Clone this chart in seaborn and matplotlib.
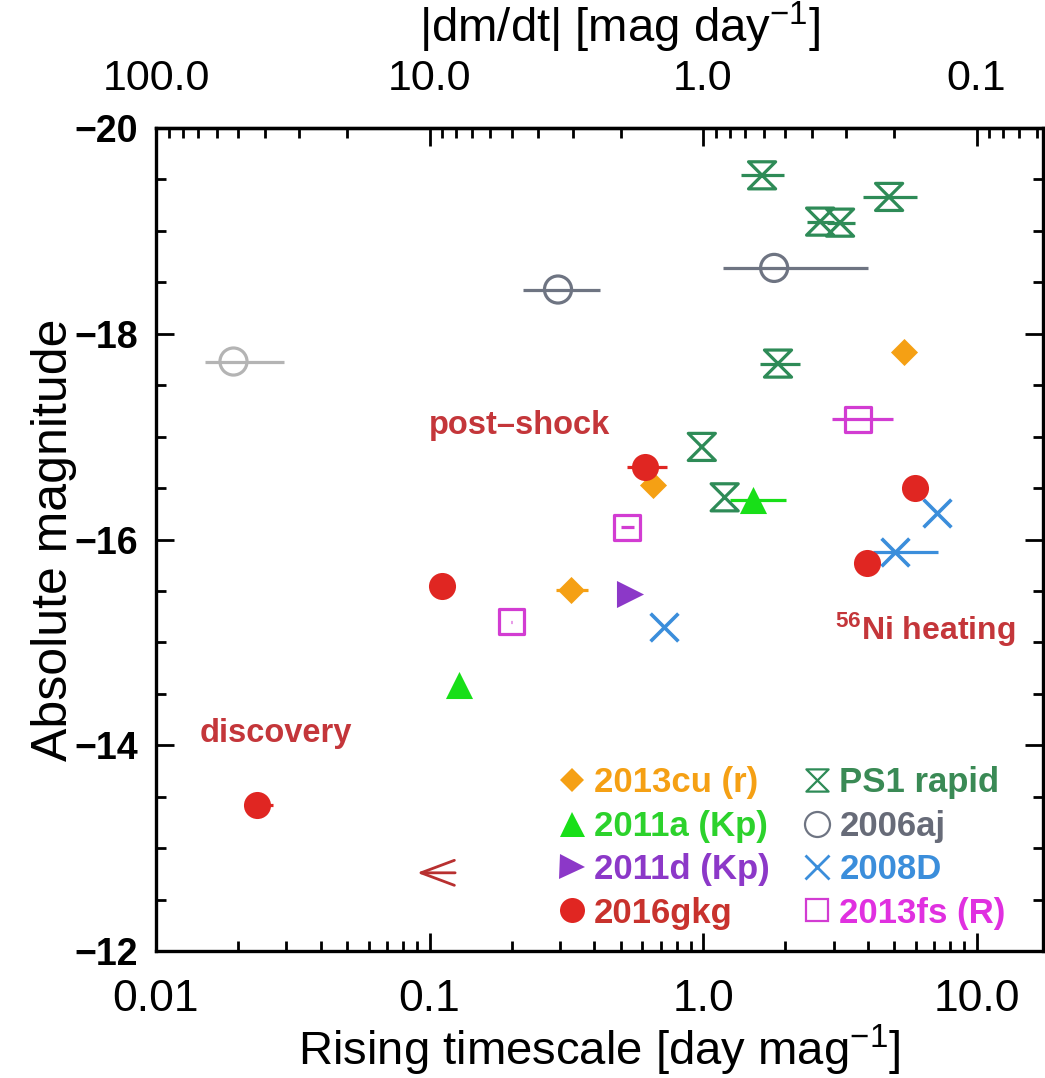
import numpy as np
import pandas as pd
import matplotlib
matplotlib.use("Agg")
import matplotlib.pyplot as plt
import seaborn as sns
from matplotlib.path import Path
from matplotlib.lines import Line2D
from matplotlib.ticker import MultipleLocator, LogLocator, NullFormatter

# rising timescale [day mag^-1], absolute magnitude, x error extent (lo, hi)
cu_x = [5.45, 0.656, 0.329]
cu_y = [-17.82, -16.53, -15.51]
cu_lo = [5.45, 0.656, 0.29]
cu_hi = [5.45, 0.656, 0.38]

a11_x = [0.128, 1.52]
a11_y = [-14.59, -16.38]
a11_lo = [0.128, 1.25]
a11_hi = [0.128, 2.01]

d11_x = [0.541]
d11_y = [-15.47]

gkg_x = [0.0234, 0.111, 0.614, 5.96, 3.98]
gkg_y = [-13.42, -15.55, -16.70, -16.50, -15.77]
gkg_lo = [0.0215, 0.111, 0.527, 5.96, 3.98]
gkg_hi = [0.0268, 0.111, 0.739, 5.96, 3.98]
gkg_limit_x = [0.127, 0.088]   # upper limit (arrow tail -> tip)
gkg_limit_y = -12.76

ps1_x = [1.644, 2.68, 3.17, 4.79, 1.88, 0.99, 1.20]
ps1_y = [-19.54, -19.09, -19.08, -19.33, -17.71, -16.90, -16.41]
ps1_lo = [1.377, 2.40, 2.85, 3.85, 1.62, 0.99, 1.20]
ps1_hi = [1.98, 3.00, 3.60, 6.06, 2.26, 0.99, 1.20]

aj_x = [0.295, 1.82]
aj_y = [-18.43, -18.64]
aj_lo = [0.22, 1.18]
aj_hi = [0.42, 4.01]

aj_early_x = [0.0192]
aj_early_y = [-17.73]
aj_early_lo = [0.0151]
aj_early_hi = [0.0293]

d08_x = [0.72, 5.04, 7.17]
d08_y = [-15.15, -15.88, -16.26]
d08_lo = [0.72, 4.18, 7.17]
d08_hi = [0.72, 7.22, 7.17]

fs_x = [0.20, 0.527, 3.69]
fs_y = [-15.20, -16.12, -17.17]
fs_lo = [0.199, 0.50, 2.96]
fs_hi = [0.201, 0.56, 4.95]

labels = ['2013cu (r)', '2011a (Kp)', '2011d (Kp)', '2016gkg',
          'PS1 rapid', '2006aj', '2008D', '2013fs (R)']

c_cu = '#F5A014'
c_a11 = '#18DF18'
c_d11 = '#8C38C8'
c_gkg = '#E02622'
c_ps1 = '#2E8B57'
c_aj = '#6E7482'
c_early = '#B4B4B4'
c_08d = '#3B8EDB'
c_fs = '#D23CD2'
c_note = '#C4363A'
text_colors = [c_cu, '#2CD22C', c_d11, '#C8322D', '#3A8A55', '#676B78', c_08d, '#E030E0']

# hourglass marker used for the PS1 objects
hourglass = Path([(-1, 1), (1, 1), (-1, -1), (1, -1), (-1, 1)],
                 [Path.MOVETO, Path.LINETO, Path.LINETO, Path.LINETO, Path.CLOSEPOLY])

sns.set_style("ticks")
plt.rcParams['font.family'] = ['Liberation Sans', 'DejaVu Sans']
plt.rcParams['mathtext.fontset'] = 'custom'
plt.rcParams['mathtext.rm'] = 'Liberation Sans'
plt.rcParams['mathtext.it'] = 'Liberation Sans:italic'
plt.rcParams['mathtext.bf'] = 'Liberation Sans:bold'
plt.rcParams.update({'text.color': 'black', 'axes.labelcolor': 'black',
                     'xtick.color': 'black', 'ytick.color': 'black'})

fig = plt.figure(figsize=(10.45, 10.78), dpi=100)
ax = fig.add_axes([156 / 1045, 1 - 951 / 1078, 887 / 1045, 823 / 1078])
ax.set_xscale('log')


def draw(x, y, color, marker, s, lo=None, hi=None, kind='filled', lw=2.3):
    df = pd.DataFrame({'x': x, 'y': y})
    if lo is not None:
        xa = np.array(x)
        ax.errorbar(xa, y, xerr=[xa - np.array(lo), np.array(hi) - xa], fmt='none',
                    ecolor=color, elinewidth=2.3, capsize=0, zorder=2)
    if kind == 'filled':
        sns.scatterplot(data=df, x='x', y='y', marker=marker, s=s, color=color,
                        linewidth=0, ax=ax, zorder=3)
    elif kind == 'open':
        sns.scatterplot(data=df, x='x', y='y', marker=marker, s=s, color=color,
                        facecolor='none', edgecolor=color, linewidth=lw, ax=ax, zorder=3)
    else:  # line-art marker such as 'x'
        sns.scatterplot(data=df, x='x', y='y', marker=marker, s=s, color=color,
                        linewidth=lw, ax=ax, zorder=3)


draw(ps1_x, ps1_y, c_ps1, hourglass, 380, ps1_lo, ps1_hi, kind='open')
draw(aj_x, aj_y, c_aj, 'o', 380, aj_lo, aj_hi, kind='open')
draw(aj_early_x, aj_early_y, c_early, 'o', 380, aj_early_lo, aj_early_hi, kind='open')
draw(fs_x, fs_y, c_fs, 's', 330, fs_lo, fs_hi, kind='open')
draw(cu_x, cu_y, c_cu, 'D', 190, cu_lo, cu_hi)
draw(a11_x, a11_y, c_a11, '^', 380, a11_lo, a11_hi)
draw(d11_x, d11_y, c_d11, '>', 380)
draw(d08_x, d08_y, c_08d, 'x', 400, d08_lo, d08_hi, kind='line', lw=2.6)
draw(gkg_x, gkg_y, c_gkg, 'o', 380, gkg_lo, gkg_hi)

ax.annotate('', xy=(gkg_limit_x[1], gkg_limit_y), xytext=(gkg_limit_x[0], gkg_limit_y),
            arrowprops=dict(arrowstyle='->,head_length=1.2,head_width=0.45',
                            color='#B83030', lw=2, mutation_scale=20))

ax.text(0.214, -17.11, 'post\u2013shock', color=c_note, fontsize=23.5, fontweight='bold',
        ha='center', va='center')
ax.text(0.0274, -14.11, 'discovery', color=c_note, fontsize=23.5, fontweight='bold',
        ha='center', va='center')
ax.text(6.5, -15.12, r'$^{\mathbf{56}}$Ni heating', color=c_note, fontsize=23,
        fontweight='bold', ha='center', va='center')

ax.set_xlim(0.01, 17.5)
ax.set_ylim(-12, -20)
ax.set_xticks([0.01, 0.1, 1, 10], ['0.01', '0.1', '1.0', '10.0'])
ax.set_yticks([-20, -18, -16, -14, -12],
              ['\u221220', '\u221218', '\u221216', '\u221214', '\u221212'], fontweight='bold')
ax.yaxis.set_minor_locator(MultipleLocator(0.5))
ax.tick_params(which='both', direction='in', top=False, right=True, width=2, color='black')
ax.tick_params(which='major', length=13)
ax.tick_params(which='minor', length=7)
ax.tick_params(axis='x', labelsize=32, pad=20)
ax.tick_params(axis='y', labelsize=27, pad=13)
for sp in ax.spines.values():
    sp.set_linewidth(2.4)
    sp.set_color('black')
ax.set_xlabel('Rising timescale [day mag$^{-1}$]', fontsize=34, labelpad=2)
ax.set_ylabel('Absolute magnitude', fontsize=36, labelpad=-2)


def one_over(v):
    v = np.array(v, float)
    near = np.isclose(v, 0)
    v[near] = np.inf
    v[~near] = 1 / v[~near]
    return v


sec = ax.secondary_xaxis('top', functions=(one_over, one_over))
sec.set_xticks([100, 10, 1, 0.1], ['100.0', '10.0', '1.0', '0.1'])
sec.xaxis.set_minor_locator(LogLocator(base=10, subs=np.arange(2, 10)))
sec.xaxis.set_minor_formatter(NullFormatter())
sec.tick_params(which='both', direction='in', width=2, labelsize=31, pad=21)
sec.tick_params(which='major', length=13)
sec.tick_params(which='minor', length=7)
sec.spines['top'].set_linewidth(2.4)
sec.set_xlabel('|dm/dt| [mag day$^{-1}$]', fontsize=34)
sec.xaxis.set_label_coords(0.523, 1.122, transform=ax.transAxes)
sec.xaxis.label.set_va('center')

handles = [
    Line2D([], [], ls='none', marker='D', ms=12, color=c_cu, mew=0),
    Line2D([], [], ls='none', marker='^', ms=18, color=c_a11, mew=0),
    Line2D([], [], ls='none', marker='>', ms=18, color=c_d11, mew=0),
    Line2D([], [], ls='none', marker='o', ms=18, color=c_gkg, mew=0),
    Line2D([], [], ls='none', marker=hourglass, ms=16, color=c_ps1, mfc='none', mew=1.6),
    Line2D([], [], ls='none', marker='o', ms=18, color=c_aj, mfc='none', mew=1.6),
    Line2D([], [], ls='none', marker='x', ms=17, color=c_08d, mew=2),
    Line2D([], [], ls='none', marker='s', ms=16, color=c_fs, mfc='none', mew=1.6),
]
leg = ax.legend(handles, labels, ncol=2, loc='lower right', bbox_to_anchor=(0.958, 0.026),
                frameon=False, prop={'size': 25, 'weight': 'bold'}, handlelength=0.8,
                handletextpad=0.25, columnspacing=0.95, labelspacing=0.3,
                borderpad=0, borderaxespad=0)
for t, c in zip(leg.get_texts(), text_colors):
    t.set_color(c)

fig.savefig('out.png', dpi=100)
